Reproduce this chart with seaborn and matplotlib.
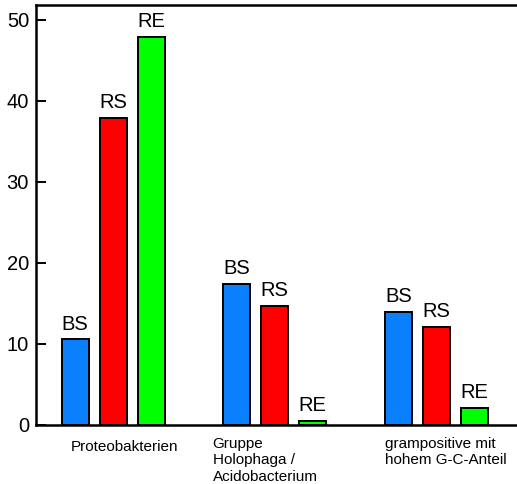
import matplotlib

matplotlib.use("Agg")

import matplotlib.pyplot as plt
import matplotlib.transforms as mtransforms
import pandas as pd
import seaborn as sns


GROUPS = ["Proteobakterien", "Gruppe\nHolophaga /\nAcidobacterium", "grampositive mit\nhohem G-C-Anteil"]
SERIES = ["BS", "RS", "RE"]
BS_VALUES = [10.6, 17.4, 14.0]
RS_VALUES = [37.9, 14.7, 12.1]
RE_VALUES = [47.9, 0.5, 2.1]
Y_TICKS = [0, 10, 20, 30, 40, 50]
COLORS = {"BS": "#0A80FF", "RS": "#FF0000", "RE": "#00FF00"}

# where the group captions start, relative to the group centre
LABEL_OFFSETS = [-0.26, -0.385, -0.32]
LABEL_Y = [-0.036, -0.028, -0.028]


def main() -> None:
    sns.set_theme(style="white")
    plt.rcParams["font.family"] = ["Liberation Sans", "DejaVu Sans"]
    plt.rcParams["text.color"] = "black"
    plt.rcParams["ytick.color"] = "black"

    rows = []
    for series, values in zip(SERIES, [BS_VALUES, RS_VALUES, RE_VALUES]):
        for group, value in zip(GROUPS, values):
            rows.append({"group": group, "series": series, "value": value})
    df = pd.DataFrame(rows)

    fig = plt.figure(figsize=(5.17, 4.84), dpi=100)
    ax = fig.add_axes([0.0696, 0.122, 0.94, 0.868])
    sns.barplot(
        data=df, x="group", y="value", hue="series", order=GROUPS, hue_order=SERIES,
        palette=COLORS, saturation=1, width=0.705, gap=0.29, edgecolor="black",
        linewidth=1.4, legend=False, ax=ax,
    )

    for container, name in zip(ax.containers, SERIES):
        ax.bar_label(container, labels=[name] * len(container), padding=4, fontsize=14.5, color="black")

    ax.set_xlim(-0.478, 2.53)
    ax.set_ylim(0, 51.85)
    ax.set_yticks(Y_TICKS)
    ax.set_xticks([])
    ax.set_xlabel("")
    ax.set_ylabel("")
    ax.tick_params(axis="y", direction="in", length=7, width=1.4, labelsize=14.5,
                   pad=5, left=True, colors="black")

    for side in ["left", "bottom", "top"]:
        ax.spines[side].set_linewidth(1.8)
        ax.spines[side].set_color("black")
    ax.spines["right"].set_visible(False)

    trans = mtransforms.blended_transform_factory(ax.transData, ax.transAxes)
    for i, (group, off, y) in enumerate(zip(GROUPS, LABEL_OFFSETS, LABEL_Y)):
        ax.text(i + off, y, group, transform=trans, ha="left", va="top",
                fontsize=11, linespacing=1.25, color="black")

    fig.savefig("out.png", dpi=100)
    plt.close(fig)


if __name__ == "__main__":
    main()
